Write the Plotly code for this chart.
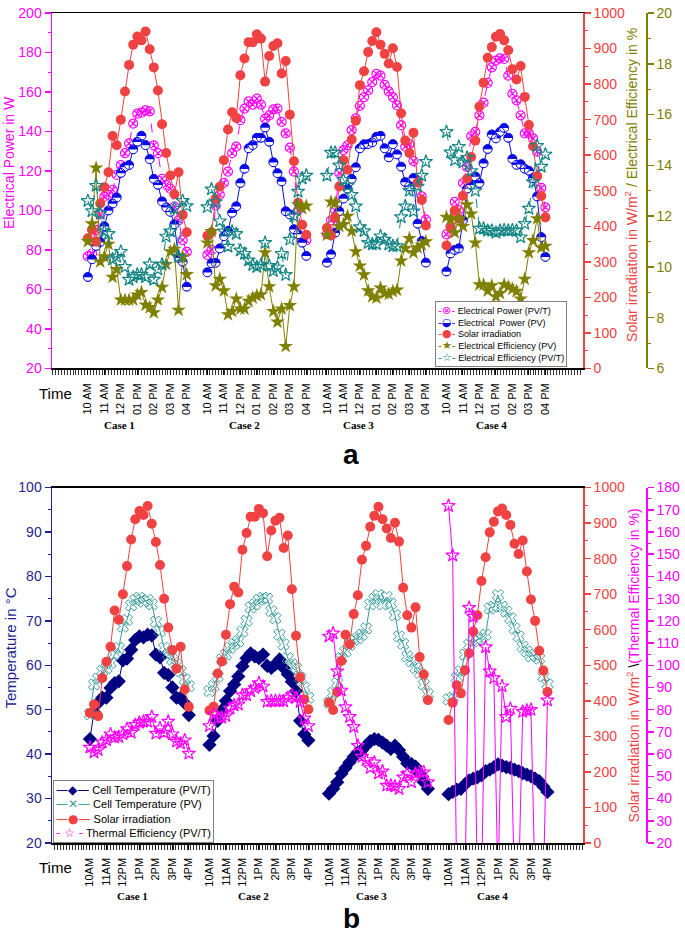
import plotly.graph_objects as go

# ---------------- data ----------------
hours_a = ["10 AM", "11 AM", "12 PM", "01 PM", "02 PM", "03 PM", "04 PM"]
hours_b = ["10AM", "11AM", "12PM", "1PM", "2PM", "3PM", "4PM"]
cases = ["Case 1", "Case 2", "Case 3", "Case 4"]
STEPS_PER_HOUR = 4          # one reading every 15 min
POINTS = 25                 # 10 AM .. 4 PM
CASE_STRIDE = 29            # index offset between cases on the shared time axis

solar_c1 = [366, 390, 357, 464, 510, 552, 654, 628, 700, 779, 854, 911, 934, 923, 948, 898, 847, 782, 687, 606, 543, 490, 552, 432, 383]
solar_c2 = [373, 383, 477, 511, 586, 672, 721, 705, 825, 872, 918, 918, 940, 928, 807, 879, 907, 915, 830, 865, 714, 583, 466, 404, 376]
solar_c3 = [395, 374, 425, 512, 586, 559, 644, 697, 797, 836, 890, 921, 946, 911, 885, 858, 901, 848, 718, 641, 606, 663, 523, 474, 402]
solar_c4 = [346, 395, 444, 421, 486, 534, 595, 641, 737, 804, 874, 904, 933, 941, 923, 895, 842, 813, 851, 764, 685, 625, 541, 485, 425]

power_pvt_c1 = [76.7, 78.2, 90, 98, 107, 108, 110.5, 118, 123, 129, 134, 144, 149, 149.5, 150.7, 150.2, 133, 129, 116, 113, 111, 102, 95, 85, 79]
power_pvt_c2 = [77.5, 80, 102.5, 108, 113.9, 119.7, 129, 132.3, 145.7, 151.6, 155.2, 153.6, 156.6, 153.6, 146.5, 148.2, 151.2, 151.6, 144.9, 139, 131.8, 119.7, 100, 85, 84.9]
power_pvt_c3 = [88, 95, 100, 119, 130.6, 133, 140.7, 146.6, 153, 157.4, 160.8, 165, 169.2, 168.3, 163.6, 160.3, 157.4, 153.2, 143.2, 132.3, 133.5, 125, 115, 107.1, 95.4]
power_pvt_c4 = [87.9, 92, 104.3, 100, 113.9, 122, 137.7, 139.8, 148.2, 154.6, 164.6, 172.5, 175.9, 177, 176.7, 168.3, 159.1, 155.8, 148.2, 139, 139, 136.5, 129.8, 111.4, 101.6]

power_pv_c1 = [66.3, 75.3, 82, 84, 92, 100, 103.5, 106.6, 119, 122, 123, 131, 134.8, 137.8, 133.1, 126, 116, 113, 104.6, 101.6, 99.3, 93, 76, 74, 61.4]
power_pv_c2 = [68.7, 73.3, 73.5, 80.8, 87, 89.6, 98.8, 102.1, 113.9, 121.1, 131.5, 133.1, 136.8, 136.8, 142, 134.8, 124.4, 118.9, 114.7, 99.6, 98, 90.5, 88, 83.7, 77]
power_pv_c3 = [73.6, 77.8, 88.7, 99.6, 106, 111, 116, 121.9, 131.5, 133.5, 133.6, 134.5, 137.3, 137.8, 131.5, 126.9, 133.6, 128.4, 122.2, 114.4, 112.2, 116.4, 93.3, 84.5, 73.6]
power_pv_c4 = [69.1, 78.2, 80, 80.8, 95, 111, 113, 117.2, 113.9, 123.9, 131.1, 138.5, 136.5, 139.8, 141.8, 136.8, 126.1, 123.1, 123.4, 121.1, 120.1, 116.4, 107.1, 86.5, 76.5]

eff_pv_c1 = [11.0, 11.7, 13.9, 10.2, 10.4, 10.9, 9.6, 9.9, 8.7, 8.7, 8.7, 8.7, 8.9, 9.0, 8.5, 8.4, 8.2, 8.7, 9.2, 10.1, 10.6, 10.7, 8.3, 10.4, 9.7]
eff_pv_c2 = [10.95, 11.4, 9.26, 9.52, 9.06, 8.12, 8.25, 8.74, 8.35, 8.35, 8.65, 8.78, 8.87, 8.91, 10.56, 9.22, 8.25, 7.83, 8.35, 6.87, 8.48, 9.22, 12.45, 12.3, 12.4]
eff_pv_c3 = [11.25, 12.56, 12.52, 11.6, 11.67, 12.0, 11.41, 10.6, 10.04, 9.69, 9.06, 8.83, 8.78, 9.17, 8.96, 8.93, 9.04, 9.09, 10.24, 10.73, 11.12, 10.56, 10.76, 10.86, 10.99]
eff_pv_c4 = [11.96, 11.87, 11.35, 11.9, 11.6, 12.45, 12.09, 10.95, 9.3, 9.3, 9.06, 9.26, 8.83, 8.96, 9.3, 9.22, 9.13, 9.04, 8.74, 9.52, 10.56, 11.04, 11.9, 10.76, 10.82]

eff_pvt_c1 = [12.6, 12.2, 13.2, 12.1, 11.4, 11.3, 10.3, 10.4, 10.6, 10.0, 9.5, 9.6, 9.7, 9.7, 9.6, 10.1, 9.5, 9.9, 10.1, 11.2, 11.4, 12.3, 10.4, 12.6, 12.4]
eff_pvt_c2 = [12.36, 13.06, 12.56, 11.8, 11.4, 10.8, 11.4, 11.3, 10.65, 10.52, 10.26, 10.08, 10.0, 10.08, 10.95, 10.04, 9.84, 9.98, 10.52, 9.69, 11.08, 12.0, 12.97, 13.49, 13.6]
eff_pvt_c3 = [13.6, 14.5, 14.5, 14.0, 13.43, 13.2, 12.84, 12.39, 11.57, 11.41, 10.95, 10.89, 10.9, 11.21, 11.08, 10.89, 10.82, 10.82, 11.96, 12.39, 13.0, 12.19, 13.17, 13.6, 14.14]
eff_pvt_c4 = [15.32, 14.51, 14.21, 14.73, 14.12, 14.3, 13.78, 13.0, 11.51, 11.51, 11.43, 11.43, 11.35, 11.43, 11.45, 11.43, 11.45, 11.43, 11.17, 11.7, 12.3, 13.34, 14.77, 13.95, 14.43]

cell_pvt_c1 = [43.4, 49.5, 51.5, 52.7, 52.7, 54.9, 56.0, 56.4, 61.1, 61.5, 63.5, 65.7, 66.5, 66.3, 66.9, 66.7, 62.4, 61.8, 58.3, 57.8, 55.0, 52.7, 52.7, 51.5, 48.8]
cell_pvt_c2 = [42.1, 44.1, 47.5, 49.9, 52.0, 54.2, 55.7, 57.5, 59.8, 61.6, 62.7, 62.0, 61.6, 62.4, 59.9, 59.4, 60.2, 61.3, 59.4, 58.0, 56.3, 54.2, 47.5, 44.5, 43.1]
cell_pvt_c3 = [31.1, 32.2, 33.7, 35.6, 36.9, 38.2, 39.4, 40.4, 40.9, 41.9, 42.9, 43.4, 43.2, 42.6, 41.9, 41.2, 41.9, 40.9, 39.4, 37.9, 37.8, 37.2, 35.6, 33.7, 32.2]
cell_pvt_c4 = [31.0, 31.5, 32.0, 32.2, 33.2, 34.1, 34.5, 34.8, 35.2, 36.2, 36.5, 37.1, 37.7, 37.4, 37.1, 36.9, 36.5, 36.2, 35.7, 35.4, 35.0, 34.5, 33.9, 32.7, 31.5]

cell_pv_c1 = [49.0, 55.7, 57.0, 58.7, 59.4, 60.5, 62.5, 63.9, 68.7, 70.2, 73.5, 74.7, 75.2, 74.3, 74.7, 73.7, 69.8, 67.7, 63.9, 62.5, 61.3, 60.2, 58.7, 56.8, 55.3]
cell_pv_c2 = [54.2, 55.3, 57.5, 61.3, 62.4, 63.9, 64.8, 65.4, 67.6, 70.0, 73.0, 73.7, 74.7, 75.2, 75.0, 72.2, 70.6, 66.9, 64.7, 61.6, 60.2, 59.4, 57.2, 55.0, 52.7]
cell_pv_c3 = [51.6, 53.8, 56.0, 61.6, 63.1, 64.6, 65.7, 66.1, 66.9, 68.3, 73.7, 74.9, 75.8, 73.7, 75.4, 73.9, 71.3, 66.5, 64.8, 62.0, 60.9, 59.4, 58.3, 55.7, 53.5]
cell_pv_c4 = [52.3, 52.7, 57.2, 58.7, 62.4, 64.6, 65.4, 65.8, 66.1, 66.9, 72.8, 73.2, 75.8, 73.2, 72.1, 70.6, 68.3, 66.5, 64.2, 63.1, 62.0, 62.4, 61.5, 57.5, 55.7]

therm_eff_c1 = [63.0, 60.8, 61.9, 65.3, 66.3, 69.0, 67.5, 67.8, 69.0, 71.3, 69.7, 73.2, 74.2, 74.7, 74.7, 76.8, 69.3, 71.7, 69.7, 74.7, 69.0, 65.7, 64.8, 66.3, 60.3]
therm_eff_c2 = [72.7, 78.0, 76.5, 76.5, 77.2, 80.6, 82.0, 82.4, 86.6, 86.6, 88.4, 89.8, 92.0, 90.5, 83.6, 83.9, 83.9, 83.9, 83.9, 85.4, 86.6, 85.4, 83.5, 76.1, 72.7]
therm_eff_c3 = [113.0, 114.4, 97.3, 88.7, 81.2, 76.8, 72.3, 63.8, 58.9, 57.4, 53.8, 56.3, 51.4, 52.3, 45.9, 45.9, 45.5, 44.4, 49.6, 51.2, 47.4, 51.2, 51.9, 51.9, 47.4]
therm_eff_c4 = [171.8, 149.5, 0, 0, 0, 125.9, 121.9, 0, 0, 108.2, 97.3, 94.3, 0, 90.6, 76.8, 80.5, 0, 0, 79.1, 79.7, 80.0, 0, 0, 0, 84.2]

solar = [solar_c1, solar_c2, solar_c3, solar_c4]
power_pvt = [power_pvt_c1, power_pvt_c2, power_pvt_c3, power_pvt_c4]
power_pv = [power_pv_c1, power_pv_c2, power_pv_c3, power_pv_c4]
eff_pv = [eff_pv_c1, eff_pv_c2, eff_pv_c3, eff_pv_c4]
eff_pvt = [eff_pvt_c1, eff_pvt_c2, eff_pvt_c3, eff_pvt_c4]
cell_pvt = [cell_pvt_c1, cell_pvt_c2, cell_pvt_c3, cell_pvt_c4]
cell_pv = [cell_pv_c1, cell_pv_c2, cell_pv_c3, cell_pv_c4]
therm_eff = [therm_eff_c1, therm_eff_c2, therm_eff_c3, therm_eff_c4]

# ---------------- styling ----------------
W, H = 685, 933
ML, MR, MT, MB = 52, 5, 7, 90
PW, PH = W - ML - MR, H - MT - MB
FONT = "Liberation Sans, Arial, sans-serif"

MAGENTA = "#FF00FF"
BLUE = "#0A0AE6"
RED = "#F04242"
OLIVE = "#808000"
TEAL = "#138585"
NAVY = "#000080"
TEAL2 = "#3A9C9C"
NAVYTXT = "#1F1F8F"


def px_x(p):
    return (p - ML) / PW


def px_y(p):
    return (H - MB - p) / PH


def concat(series_list):
    out = []
    for s in series_list:
        out += list(s) + [None]
    return out


def xs():
    out = []
    for c in range(len(cases)):
        out += [c * CASE_STRIDE + i for i in range(POINTS)] + [None]
    return out


X = xs()
tickvals = [c * CASE_STRIDE + STEPS_PER_HOUR * h for c in range(len(cases)) for h in range(len(hours_a))]

fig = go.Figure()


def add(y, xa, ya, color, symbol, size, dash="solid", mfill=None, lw=1, mlw=1, mode="lines+markers",
        standoff=None):
    marker = dict(symbol=symbol, size=size, color=mfill if mfill else color,
                  line=dict(color=color if not mfill or mlw else mfill, width=mlw))
    if standoff is not None:
        marker["standoff"] = standoff
    fig.add_trace(go.Scatter(x=X, y=concat(y), xaxis=xa, yaxis=ya, mode=mode,
                             line=dict(color=color, width=lw, dash=dash), marker=marker,
                             showlegend=False, hoverinfo="skip", connectgaps=False))


# panel a
add(power_pvt, "x", "y", MAGENTA, "circle-x-open", 9, dash="dash", mlw=1.2)
# half-filled circles: blue disc, white cap over the upper half, blue outline
add(power_pv, "x", "y", BLUE, "circle", 9, mlw=0)
fig.add_trace(go.Scatter(x=X, y=concat(power_pv), xaxis="x", yaxis="y", mode="markers",
                         marker=dict(symbol="line-ew", size=7, standoff=2,
                                     line=dict(color="white", width=3.6)),
                         showlegend=False, hoverinfo="skip"))
add(power_pv, "x", "y", BLUE, "circle-open", 9, mlw=1, mode="markers")
add(solar, "x", "y2", RED, "circle", 10, mlw=0)
add(eff_pv, "x", "y3", OLIVE, "star", 11, mlw=0)
add(eff_pvt, "x", "y3", TEAL, "star-open", 10, dash="dash", mlw=1.2)
# panel b
add(cell_pvt, "x2", "y4", NAVY, "diamond", 11, mlw=0)
add(cell_pv, "x2", "y4", TEAL2, "x-open", 10, mlw=1)
add(solar, "x2", "y5", RED, "circle", 10, mlw=0)
add(therm_eff, "x2", "y6", MAGENTA, "star-open", 10, mlw=1.2)

x_dom = [0, px_x(585)]
dom_a = [px_y(365), px_y(7)]
dom_b = [px_y(843), px_y(485)]
pos_far = px_x(648)


def xaxis(dom_anchor, rng, labels):
    return dict(domain=x_dom, anchor=dom_anchor, range=rng, tickmode="array", tickvals=tickvals,
                ticktext=labels * len(cases), tickangle=-90, tickfont=dict(family=FONT, size=11, color="black"),
                showline=True, linecolor="black", linewidth=1.5, mirror=True, ticks="outside",
                ticklen=5, tickwidth=1, tickcolor="black", ticklabelstandoff=4,
                minor=dict(tickmode="linear", tick0=0, dtick=0.72, ticks="outside", ticklen=5,
                           tickcolor="black", tickwidth=0.8),
                showgrid=False, zeroline=False)


def yaxis(color, rng, dtick, mdtick, **kw):
    d = dict(range=rng, dtick=dtick, tick0=rng[0], showline=True, linecolor=color, linewidth=1.5,
             ticks="outside", ticklen=6, tickwidth=1.5, tickcolor=color,
             tickfont=dict(family=FONT, size=14, color=color),
             minor=dict(dtick=mdtick, ticks="outside", ticklen=3, tickcolor=color, tickwidth=1),
             showgrid=False, zeroline=False)
    d.update(kw)
    return d


fig.update_layout(
    width=W, height=H, margin=dict(l=ML, r=MR, t=MT, b=MB),
    paper_bgcolor="white", plot_bgcolor="white", showlegend=False,
    font=dict(family=FONT),
    xaxis=xaxis("y", [-8.7, 120.2], hours_a),
    xaxis2=xaxis("y4", [-9.2, 119.7], hours_b),
    yaxis=yaxis(MAGENTA, [20, 200], 20, 10, domain=dom_a, anchor="x"),
    yaxis2=yaxis(RED, [0, 1000], 100, 50, overlaying="y", side="right", anchor="x"),
    yaxis3=yaxis(OLIVE, [6, 20], 2, 1, overlaying="y", side="right", anchor="free", position=pos_far),
    yaxis4=yaxis(NAVYTXT, [20, 100], 10, 5, domain=dom_b, anchor="x2"),
    yaxis5=yaxis(RED, [0, 1000], 100, 50, overlaying="y4", side="right", anchor="x2"),
    yaxis6=yaxis(MAGENTA, [20, 180], 10, 5, overlaying="y4", side="right", anchor="free", position=pos_far),
)

ann = []


def text(xp, yp, t, size, color="black", angle=0, family=FONT, xanchor="center", yanchor="middle", **kw):
    ann.append(dict(x=px_x(xp), y=px_y(yp), xref="paper", yref="paper", text=t, showarrow=False,
                    textangle=angle, font=dict(family=family, size=size, color=color),
                    xanchor=xanchor, yanchor=yanchor, **kw))


# axis titles
text(9, 158, "Electrical Power in W", 14, MAGENTA, -90)
text(633, 180, f"<span style='color:{RED}'>Solar irradiation in W/m<sup>2</sup></span>"
               f"<span style='color:{OLIVE}'> / Electrical Efficiency in %</span>", 14, RED, -90)
text(10, 647, "Temperature in °C", 15, NAVYTXT, -90)
text(635, 664, f"<span style='color:{RED}'>Solar irradiation in W/m<sup>2</sup></span>"
               f"<span style='color:black'> \\</span><span style='color:{MAGENTA}'>(Thermal Efficiency in %)</span>",
     14, RED, -90)

# time captions and case labels
text(56, 390, "Time", 15)
text(56, 868, "Time", 15)
for cx, c in zip([120, 245, 359, 493], cases):
    text(cx, 422, f"<b>{c}</b>", 11, family="Liberation Serif, Times New Roman, serif")
for cx, c in zip([133, 254, 373, 494], cases):
    text(cx, 896, f"<b>{c}</b>", 11, family="Liberation Serif, Times New Roman, serif")

# panel letters
text(352, 452, "<b>a</b>", 28)
text(352, 919, "<b>b</b>", 28)

# legends (text boxes)
leg_a = [(MAGENTA, "-⊗-", "Electrical Power (PV/T)"),
         (BLUE, "-◒-", "Electrical  Power (PV)"),
         (RED, "-●-", "Solar irradiation"),
         (OLIVE, "-★-", "Electrical Efficiency (PV)"),
         (TEAL, "-☆-", "Electrical Efficiency (PV/T)")]
leg_b = [(NAVY, "—◆—", "Cell Temperature (PV/T)"),
         (TEAL2, "—✕—", "Cell Temperature (PV)"),
         (RED, "—●—", "Solar irradiation"),
         (MAGENTA, "- ☆ -", "Thermal Efficiency (PV/T)")]


def legend_text(items, gs):
    return "<br>".join(
        f"<span style='color:{c};font-size:{gs}px;font-family:DejaVu Sans'>{g}</span> {t}" for c, g, t in items)


text(436, 364, legend_text(leg_a, 11), 9, xanchor="left", yanchor="bottom", align="left",
     bordercolor="#808080", borderwidth=1, bgcolor="white", borderpad=2)
text(53, 843, legend_text(leg_b, 12), 11, xanchor="left", yanchor="bottom", align="left",
     bordercolor="#808080", borderwidth=1, bgcolor="white", borderpad=2)

fig.update_layout(annotations=ann)
fig.write_html("out.html", config={"displayModeBar": False, "staticPlot": True},
               post_script="document.body.style.margin='0px';")
